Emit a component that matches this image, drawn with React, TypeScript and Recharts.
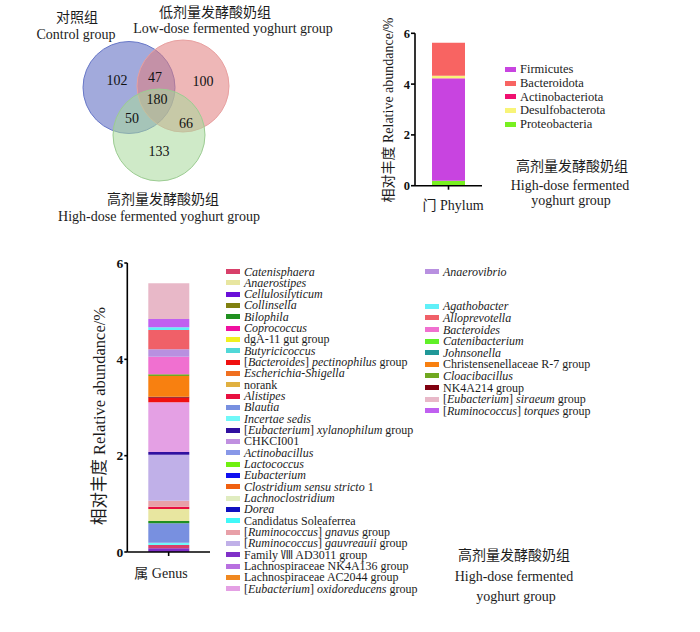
import React from 'react';
import { BarChart, Bar, XAxis, YAxis, ScatterChart, Scatter } from 'recharts';

// ── Fonts / ink ───────────────────────────────────────────────────────────────

const SERIF = '"Liberation Serif", "Noto Sans CJK SC", serif';
const INK = '#1c1c1c';

// ── Venn data ─────────────────────────────────────────────────────────────────

const VENN_GROUPS = ['Control', 'Low', 'High'];
const VENN_CENTER_X = [129, 183, 159];
const VENN_CENTER_Y = [87.5, 86, 135];
const VENN_RADIUS = 46;
const VENN_FILL = ['#5565c0', '#e07b7b', '#a8d89a'];
const VENN_STROKE = ['#6878c8', '#e8a0a0', '#9ccc92'];

const VENN_COUNTS = [102, 100, 133, 47, 50, 66, 180];
const VENN_COUNT_X = [117, 203, 159, 155, 132, 186, 157];
const VENN_COUNT_Y = [80, 81, 151, 77, 118, 123, 99];

// ── Phylum data (stack bottom → top) ─────────────────────────────────────────

const PHYLA = ['Proteobacteria', 'Firmicutes', 'Actinobacteriota', 'Desulfobacterota', 'Bacteroidota'];
const PHYLUM_ABUNDANCE = [0.19, 4.03, 0.01, 0.1, 1.3];
const PHYLUM_COLORS = ['#78f020', '#c844e0', '#f01070', '#f8f478', '#f86462'];
const PHYLUM_LEGEND = ['Firmicutes', 'Bacteroidota', 'Actinobacteriota', 'Desulfobacterota', 'Proteobacteria'];

// ── Genus data ────────────────────────────────────────────────────────────────
// legend labels use *...* for italics

const GENUS_LEFT = [
  '*Catenisphaera*', '*Anaerostipes*', '*Cellulosilyticum*', '*Collinsella*', '*Bilophila*',
  '*Coprococcus*', 'dgA-11 gut group', '*Butyricicoccus*', '[*Bacteroides*] *pectinophilus* group',
  '*Escherichia-Shigella*', 'norank', '*Alistipes*', '*Blautia*', '*Incertae sedis*',
  '[*Eubacterium*] *xylanophilum* group', 'CHKCI001', '*Actinobacillus*', '*Lactococcus*',
  '*Eubacterium*', '*Clostridium sensu stricto* 1', '*Lachnoclostridium*', '*Dorea*',
  'Candidatus Soleaferrea', '[*Ruminococcus*] *gnavus* group', '[*Ruminococcus*] *gauvreauii* group',
  'Family Ⅷ AD3011 group', 'Lachnospiraceae NK4A136 group', 'Lachnospiraceae AC2044 group',
  '[*Eubacterium*] *oxidoreducens* group',
];
const GENUS_LEFT_COLORS = [
  '#d8406a', '#e8e6a0', '#6a10d8', '#808010', '#209020',
  '#f010a0', '#f0f020', '#50d8d8', '#f01010',
  '#f07020', '#e0b040', '#e81040', '#7890e0', '#70f8f8',
  '#3010a0', '#c090e0', '#8898e8', '#70f010',
  '#1010f0', '#f06010', '#e0ecc0', '#1010c0',
  '#40f8f8', '#e8a0a8', '#c0b0e8',
  '#8030c8', '#b870e0', '#f08820',
  '#e4a0e4',
];
const GENUS_RIGHT = [
  '*Anaerovibrio*', '', '', '*Agathobacter*', '*Alloprevotella*', '*Bacteroides*',
  '*Catenibacterium*', '*Johnsonella*', 'Christensenellaceae R-7 group', '*Cloacibacillus*',
  'NK4A214 group', '[*Eubacterium*] *siraeum* group', '[*Ruminococcus*] *torques* group',
];
const GENUS_RIGHT_COLORS = [
  '#b890e0', '', '', '#60f0f8', '#f06068', '#f070d0',
  '#60f028', '#209898', '#f88010', '#70a820',
  '#800010', '#e8b8c8', '#c060f0',
];

// stack bottom → top, only genera visible in the bar
const GENUS_STACK = [
  'Family Ⅷ AD3011 group', 'Catenisphaera', 'Incertae sedis', 'Blautia', 'Bilophila',
  'Anaerostipes', 'Alistipes', '[Ruminococcus] gnavus group', '[Ruminococcus] gauvreauii group',
  '[Eubacterium] xylanophilum group', '[Eubacterium] oxidoreducens group',
  '[Bacteroides] pectinophilus group', 'NK4A214 group', 'Christensenellaceae R-7 group',
  'Cloacibacillus', 'Bacteroides', 'Anaerovibrio', 'Alloprevotella', 'Agathobacter',
  '[Ruminococcus] torques group', '[Eubacterium] siraeum group',
];
const GENUS_ABUNDANCE = [
  0.077, 0.068, 0.048, 0.403, 0.048,
  0.249, 0.047, 0.125, 0.955,
  0.056, 1.032,
  0.095, 0.021, 0.43,
  0.035, 0.365, 0.154, 0.401, 0.056,
  0.172, 0.741,
];

const Y_TICKS = [0, 2, 4, 6];

// ── Helpers ───────────────────────────────────────────────────────────────────

const plain = (s: string) => s.replace(/\*/g, '');

const COLOR_BY_GENUS: Record<string, string> = {};
GENUS_LEFT.forEach((g, i) => { COLOR_BY_GENUS[plain(g)] = GENUS_LEFT_COLORS[i]; });
GENUS_RIGHT.forEach((g, i) => { if (g) COLOR_BY_GENUS[plain(g)] = GENUS_RIGHT_COLORS[i]; });

function Rich({ text }: { text: string }) {
  return (
    <>
      {text.split('*').map((part, i) =>
        i % 2 === 1 ? <i key={i}>{part}</i> : <span key={i}>{part}</span>,
      )}
    </>
  );
}

function Txt({ x, y, size = 14, children, rotate = false }: {
  x: number; y: number; size?: number; children: React.ReactNode; rotate?: boolean;
}) {
  return (
    <div style={{
      position: 'absolute', left: x, top: y, fontSize: size, fontFamily: SERIF, color: INK,
      whiteSpace: 'nowrap', lineHeight: 1,
      transform: `translate(-50%, -50%)${rotate ? ' rotate(-90deg)' : ''}`,
    }}>
      {children}
    </div>
  );
}

const axisLine = { stroke: '#000', strokeWidth: 1.6 };
const tickStyle = (size: number) => ({ fontSize: size, fill: '#111', fontFamily: SERIF, fontWeight: 'bold' as const });

// ── Venn ──────────────────────────────────────────────────────────────────────

function Venn() {
  const circles = VENN_GROUPS.map((g, i) => ({ g, x: VENN_CENTER_X[i], y: VENN_CENTER_Y[i], i }));
  const counts = VENN_COUNTS.map((n, i) => ({ n, x: VENN_COUNT_X[i], y: VENN_COUNT_Y[i] }));
  return (
    <div style={{ position: 'absolute', left: 0, top: 0 }}>
      <ScatterChart width={260} height={200} margin={{ top: 0, right: 0, bottom: 0, left: 0 }}>
        <XAxis type="number" dataKey="x" domain={[0, 260]} hide />
        <YAxis type="number" dataKey="y" domain={[0, 200]} reversed hide />
        <Scatter
          data={circles}
          isAnimationActive={false}
          shape={(p: any) => (
            <circle cx={p.cx} cy={p.cy} r={VENN_RADIUS}
              fill={VENN_FILL[p.payload.i]} fillOpacity={0.55}
              stroke={VENN_STROKE[p.payload.i]} strokeWidth={1} />
          )}
        />
        <Scatter
          data={counts}
          isAnimationActive={false}
          shape={(p: any) => (
            <text x={p.cx} y={p.cy} textAnchor="middle" dominantBaseline="central"
              fontFamily={SERIF} fontSize={14} fill="#111">{p.payload.n}</text>
          )}
        />
      </ScatterChart>
    </div>
  );
}

// ── Phylum bar ────────────────────────────────────────────────────────────────

function PhylumChart() {
  const row: Record<string, number | string> = { name: 'Phylum' };
  PHYLA.forEach((_, i) => { row[`p${i}`] = PHYLUM_ABUNDANCE[i]; });
  return (
    <div style={{ position: 'absolute', left: 360, top: 20 }}>
      <BarChart width={140} height={200} data={[row]}
        margin={{ top: 13.3, right: 18, bottom: 24.3, left: 25 }}>
        <XAxis dataKey="name" axisLine={axisLine} tickLine={axisLine} tickSize={4}
          tickFormatter={() => ''} height={10} />
        <YAxis domain={[0, 6]} ticks={Y_TICKS} axisLine={axisLine} tickLine={axisLine}
          tickSize={4} tickMargin={1} width={30} tick={tickStyle(12.5)} />
        {PHYLA.map((p, i) => (
          <Bar key={p} dataKey={`p${i}`} stackId="a" fill={PHYLUM_COLORS[i]}
            barSize={33} isAnimationActive={false} />
        ))}
      </BarChart>
    </div>
  );
}

// ── Genus bar ─────────────────────────────────────────────────────────────────

function GenusChart() {
  const row: Record<string, number | string> = { name: 'Genus' };
  GENUS_STACK.forEach((_, i) => { row[`g${i}`] = GENUS_ABUNDANCE[i]; });
  return (
    <div style={{ position: 'absolute', left: 60, top: 250 }}>
      <BarChart width={170} height={330} data={[row]}
        margin={{ top: 13, right: 20, bottom: 18, left: 37.3 }}>
        <XAxis dataKey="name" axisLine={axisLine} tickLine={axisLine} tickSize={4}
          tickFormatter={() => ''} height={10} />
        <YAxis domain={[0, 6]} ticks={Y_TICKS} axisLine={axisLine} tickLine={axisLine}
          tickSize={3} tickMargin={1} width={30} tick={tickStyle(13.5)} />
        {GENUS_STACK.map((g, i) => (
          <Bar key={g} dataKey={`g${i}`} stackId="a" fill={COLOR_BY_GENUS[g]}
            barSize={41} isAnimationActive={false} />
        ))}
      </BarChart>
    </div>
  );
}

function LegendRow({ x, y, color, label, size, sw }: {
  x: number; y: number; color: string; label: string; size: number; sw: number;
}) {
  return (
    <div style={{ position: 'absolute', left: x, top: y, height: 0 }}>
      <div style={{ position: 'absolute', left: 0, top: -2.5, width: sw, height: 5, background: color }} />
      <div style={{
        position: 'absolute', left: sw + 4, top: 0, transform: 'translateY(-50%)',
        fontFamily: SERIF, fontSize: size, color: INK, whiteSpace: 'nowrap', lineHeight: '10px',
      }}>
        <Rich text={label} />
      </div>
    </div>
  );
}

// ── App ───────────────────────────────────────────────────────────────────────

export default function App() {
  return (
    <div style={{
      position: 'absolute', left: 0, top: 0, width: 700, height: 632,
      background: '#fff', overflow: 'hidden', fontFamily: SERIF,
    }}>
      <Venn />
      <Txt x={77} y={18}>对照组</Txt>
      <Txt x={76} y={35}>Control group</Txt>
      <Txt x={215} y={13}>低剂量发酵酸奶组</Txt>
      <Txt x={233} y={29}>Low-dose fermented yoghurt group</Txt>
      <Txt x={163} y={200}>高剂量发酵酸奶组</Txt>
      <Txt x={159} y={217}>High-dose fermented yoghurt group</Txt>

      <PhylumChart />
      <Txt x={389} y={110} size={14} rotate>相对丰度 Relative abundance/%</Txt>
      <Txt x={453} y={206}>门 Phylum</Txt>
      {PHYLUM_LEGEND.map((p, i) => (
        <LegendRow key={p} x={505} y={69.3 + i * 13.7} color={PHYLUM_COLORS[PHYLA.indexOf(p)]}
          label={p} size={12.5} sw={11} />
      ))}
      <Txt x={572} y={167}>高剂量发酵酸奶组</Txt>
      <Txt x={570} y={186}>High-dose fermented</Txt>
      <Txt x={571} y={201}>yoghurt group</Txt>

      <GenusChart />
      <Txt x={100} y={416} size={16.5} rotate>相对丰度 Relative abundance/%</Txt>
      <Txt x={161} y={574}>属 Genus</Txt>
      {GENUS_LEFT.map((g, i) => (
        <LegendRow key={g} x={226} y={271.5 + i * 11.33} color={GENUS_LEFT_COLORS[i]}
          label={g} size={12} sw={14} />
      ))}
      {GENUS_RIGHT.map((g, i) => g && (
        <LegendRow key={g} x={425} y={271.5 + i * 11.6} color={GENUS_RIGHT_COLORS[i]}
          label={g} size={12} sw={14} />
      ))}
      <Txt x={514} y={556}>高剂量发酵酸奶组</Txt>
      <Txt x={514} y={577}>High-dose fermented</Txt>
      <Txt x={516} y={597}>yoghurt group</Txt>
    </div>
  );
}
